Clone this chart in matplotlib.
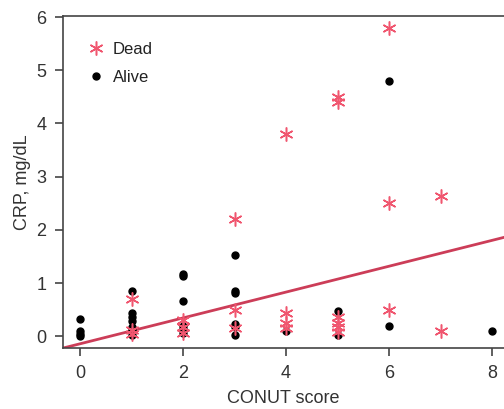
import matplotlib.pyplot as plt

plt.rcParams['font.family'] = ['Liberation Sans', 'DejaVu Sans']

# Dead patients (CONUT score, CRP mg/dL)
dead_x = [1, 1, 1, 2, 2, 2, 3, 3, 3, 4, 4, 4, 4,
          5, 5, 5, 5, 5, 5, 6, 6, 6, 7, 7]
dead_y = [0.71, 0.11, 0.05, 0.30, 0.17, 0.06, 2.21, 0.49, 0.15, 3.80, 0.43, 0.26, 0.15,
          4.49, 4.40, 0.36, 0.26, 0.17, 0.08, 5.79, 2.50, 0.49, 2.63, 0.10]

# Alive patients
alive_x = [0, 0, 0, 0, 1, 1, 1, 1, 1, 1, 1,
           2, 2, 2, 2, 2, 2, 3, 3, 3, 3, 3, 3,
           4, 5, 5, 6, 6, 8]
alive_y = [0.32, 0.10, 0.05, 0.00, 0.86, 0.43, 0.36, 0.28, 0.17, 0.11, 0.02,
           1.18, 1.14, 0.66, 0.19, 0.13, 0.06, 1.52, 0.86, 0.81, 0.23, 0.17, 0.02,
           0.10, 0.47, 0.02, 4.80, 0.19, 0.10]

# fitted line
intercept = -0.14
slope = 0.243
line_x = [-0.4, 8.4]

red = '#f0566f'
grey = '#333333'

fig = plt.figure(figsize=(5.04, 4.09), dpi=100)
ax = fig.add_axes([0.125, 0.149, 0.875, 0.812])

ax.plot(line_x, [intercept + slope * v for v in line_x], color='#cc3d58', lw=2, zorder=1)
ax.plot(dead_x, dead_y, ls='none', marker=(6, 2, 0), ms=10, mew=1.1,
        color=red, label='Dead', zorder=3)
ax.plot(alive_x, alive_y, ls='none', marker='o', ms=5,
        color='black', label='Alive', zorder=2)

ax.set_xlim(-0.33, 8.23)
ax.set_ylim(-0.22, 6.02)
ax.set_xticks([0, 2, 4, 6, 8])
ax.set_yticks([0, 1, 2, 3, 4, 5, 6])

for s in ['left', 'bottom', 'top']:
    ax.spines[s].set_color('#444444')
    ax.spines[s].set_linewidth(1.2)
ax.spines['right'].set_visible(False)
ax.tick_params(direction='out', length=6, width=1.2, color='#444444',
               labelsize=13, labelcolor=grey, pad=6)

ax.set_xlabel('CONUT score', fontsize=13, color=grey, labelpad=6)
ax.set_ylabel('CRP, mg/dL', fontsize=13, color=grey, labelpad=4)

leg = ax.legend(loc='upper left', frameon=False, fontsize=12, handlelength=0.8,
                handletextpad=0.6, labelspacing=0.8, borderaxespad=0.0,
                bbox_to_anchor=(0.045, 0.943))
for t in leg.get_texts():
    t.set_color('#222222')

fig.savefig('out.png', dpi=100)
